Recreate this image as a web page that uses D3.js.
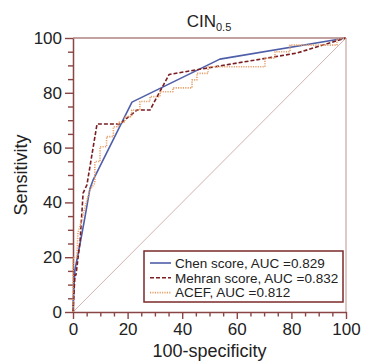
<!DOCTYPE html>
<html>
<head>
<meta charset="utf-8">
<script src="https://cdn.jsdelivr.net/npm/d3@7"></script>
<style>
  html, body { margin: 0; padding: 0; background: #fff; }
  svg { display: block; font-family: "Liberation Sans", Arial, Helvetica, sans-serif; }
</style>
</head>
<body>
<div id="chart"></div>
<script>
// ROC curves, values (100-specificity, sensitivity)
const chenX = [0, 0.1, 0.7, 2.6, 4.4, 6.2, 7.3, 21.6, 53.8, 100];
const chenY = [0, 4.4, 15.3, 25, 34.7, 45, 48, 76.6, 92.3, 100];

const mehranX = [0, 0.7, 1.1, 2.6, 3.7, 5.1, 8.8, 17.2, 23.4, 28.2, 35.2, 82, 100];
const mehranY = [0, 13.5, 13.5, 26, 43.4, 46.4, 68.6, 68.6, 73.7, 73.7, 86.7, 94.5, 100];

const acefX = [0, 0, 1.4, 1.8, 3.2, 4.8, 6.2, 8, 8, 9.9, 9.9, 12.3, 12.3, 14.8, 14.8, 16.6, 16.6, 19, 19, 21.5, 21.5,
  24.5, 24.5, 28.2, 28.2, 31.9, 31.9, 36.6, 36.6, 43.6, 43.6, 45.4, 45.4, 49.5, 49.5, 70.3, 70.3, 74, 74,
  79.5, 79.5, 96.7, 96.7, 100];
const acefY = [0, 20, 20, 28.8, 33.6, 39.8, 44.5, 47, 54.9, 54.9, 60.3, 60.3, 64, 64, 67.6, 67.6, 69.3, 69.3, 71.3, 71.3, 73.7,
  73.7, 76.8, 76.8, 78.6, 78.6, 80.4, 80.4, 81.8, 81.8, 84.7, 84.7, 87.1, 87.1, 89.5, 89.5, 92.6, 92.6, 95,
  95, 97.4, 97.4, 99.6, 100];

const majorTicks = [0, 20, 40, 60, 80, 100];
const minorTicks = d3.range(0, 101, 5).filter((v) => v % 20 !== 0);

const legendLabels = ["Chen score, AUC =0.829", "Mehran score, AUC =0.832", "ACEF, AUC =0.812"];

const width = 365, height = 364;
const margin = { left: 73, right: 19, top: 38, bottom: 52 };
const axisColor = "#8a4545";

const series = [
  { xs: chenX, ys: chenY, color: "#4f5ea8", width: 1.6, dash: null },
  { xs: mehranX, ys: mehranY, color: "#7a1e22", width: 1.6, dash: "4,2" },
  { xs: acefX, ys: acefY, color: "#e8a06a", width: 1.6, dash: "1.2,1.2" },
];

const svg = d3.select("#chart").append("svg")
  .attr("width", width)
  .attr("height", height);

const x = d3.scaleLinear().domain([0, 100]).range([margin.left, width - margin.right]);
const y = d3.scaleLinear().domain([0, 100]).range([height - margin.bottom, margin.top]);

// frame (top and right)
svg.append("line")
  .attr("x1", x(0)).attr("x2", x(100)).attr("y1", y(100)).attr("y2", y(100))
  .attr("stroke", axisColor).attr("stroke-width", 1.2);
svg.append("line")
  .attr("x1", x(100)).attr("x2", x(100)).attr("y1", y(100)).attr("y2", y(0))
  .attr("stroke", "#c9a3a3").attr("stroke-width", 1.2);

// diagonal reference
svg.append("line")
  .attr("x1", x(0)).attr("y1", y(0)).attr("x2", x(100)).attr("y2", y(100))
  .attr("stroke", "#d3b2b2").attr("stroke-width", 1);

// minor ticks
svg.append("g")
  .attr("transform", `translate(0,${y(0)})`)
  .call(d3.axisBottom(x).tickValues(minorTicks).tickSize(4.5).tickFormat(""))
  .call((g) => g.select(".domain").remove());
svg.append("g")
  .attr("transform", `translate(${x(0)},0)`)
  .call(d3.axisLeft(y).tickValues(minorTicks).tickSize(5).tickFormat(""))
  .call((g) => g.select(".domain").remove());

// major axes
svg.append("g")
  .attr("transform", `translate(0,${y(0)})`)
  .call(d3.axisBottom(x).tickValues(majorTicks).tickSize(7).tickSizeOuter(0).tickPadding(4));
svg.append("g")
  .attr("transform", `translate(${x(0)},0)`)
  .call(d3.axisLeft(y).tickValues(majorTicks).tickSize(8).tickSizeOuter(0).tickPadding(3));

svg.selectAll(".tick line").attr("stroke", axisColor).attr("stroke-width", 1.4);
svg.selectAll(".domain").attr("stroke", axisColor).attr("stroke-width", 1.5);
svg.selectAll(".tick text")
  .attr("font-family", "Liberation Sans, Arial, sans-serif")
  .attr("font-size", 17)
  .attr("fill", "#222");

// curves
const line = d3.line().x((d) => x(d[0])).y((d) => y(d[1]));
series.forEach((s) => {
  svg.append("path")
    .datum(d3.zip(s.xs, s.ys))
    .attr("d", line)
    .attr("fill", "none")
    .attr("stroke", s.color)
    .attr("stroke-width", s.width)
    .attr("stroke-dasharray", s.dash)
    .attr("stroke-linejoin", "round");
});

// title
const title = svg.append("text")
  .attr("x", 209)
  .attr("y", 27)
  .attr("text-anchor", "middle")
  .attr("font-size", 17)
  .attr("fill", "#222");
title.append("tspan").text("CIN");
title.append("tspan").attr("font-size", 11).attr("dy", 4).text("0.5");

// axis titles
svg.append("text")
  .attr("x", x(50))
  .attr("y", 357)
  .attr("text-anchor", "middle")
  .attr("font-size", 18)
  .attr("fill", "#222")
  .text("100-specificity");
svg.append("text")
  .attr("transform", `translate(27,${y(50)}) rotate(-90)`)
  .attr("text-anchor", "middle")
  .attr("font-size", 18)
  .attr("fill", "#222")
  .text("Sensitivity");

// legend
const legend = svg.append("g").attr("transform", "translate(144,251)");
legend.append("rect")
  .attr("width", 199).attr("height", 51)
  .attr("fill", "#fff")
  .attr("stroke", "#7a2a2a")
  .attr("stroke-width", 1.5);
legendLabels.forEach((label, i) => {
  const s = series[i];
  const row = legend.append("g").attr("transform", `translate(0,${12 + i * 14.8})`);
  row.append("line")
    .attr("x1", 6).attr("x2", 27)
    .attr("stroke", s.color)
    .attr("stroke-width", s.width)
    .attr("stroke-dasharray", s.dash);
  row.append("text")
    .attr("x", 31)
    .attr("dy", "0.35em")
    .attr("font-size", 13.5)
    .attr("fill", "#222")
    .text(label);
});
</script>
</body>
</html>
